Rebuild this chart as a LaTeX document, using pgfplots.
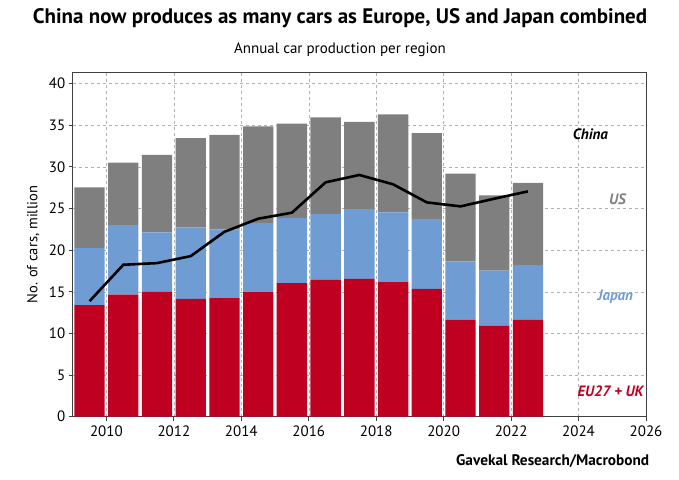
\documentclass[border=0pt]{standalone}
\usepackage{fontspec}
\setmainfont{PT Sans}
\usepackage{pgfplots}
\usepackage{pgfplotstable}
\pgfplotsset{compat=1.18}
\definecolor{eured}{HTML}{C00020}
\definecolor{jpblue}{HTML}{6F9DD3}
\definecolor{usgray}{HTML}{7F7F7F}
\definecolor{gridgray}{HTML}{B0B0B0}
\pgfplotstableread{
year EU JP US China
2009.5 13.40 6.85 7.29 13.87
2010.5 14.67 8.33 7.50 18.24
2011.5 14.99 7.13 9.30 18.44
2012.5 14.15 8.58 10.70 19.28
2013.5 14.23 8.25 11.35 22.20
2014.5 14.95 8.30 11.62 23.77
2015.5 16.03 7.82 11.34 24.49
2016.5 16.43 7.90 11.62 28.14
2017.5 16.55 8.38 10.46 29.02
2018.5 16.15 8.38 11.78 27.90
2019.5 15.35 8.38 10.30 25.73
2020.5 11.66 6.98 10.54 25.25
2021.5 10.90 6.65 9.02 26.17
2022.5 11.62 6.58 9.86 27.05
}\datatable
\begin{document}
\begin{tikzpicture}
\useasboundingbox (-72.7bp,-63.3bp) rectangle (606.3bp,416.7bp);
\pgfplotsset{
  common/.style={
    scale only axis, width=573.3bp, height=344bp,
    xmin=2009, xmax=2026, ymin=0, ymax=41.3,
    at={(0,0)}, anchor=south west,
  }
}
\begin{axis}[common,
  ybar stacked, bar width=0.9,
  xtick={2010,2012,...,2026}, ytick={0,5,...,40},
  x tick label style={/pgf/number format/1000 sep={}, yshift=-2bp},
  /pgf/number format/assume math mode=true,
  tick label style={font=\fontsize{15bp}{17bp}\selectfont},
  tick align=outside, tick pos=left, major tick length=4bp,
  grid=major, major grid style={dashed, gridgray, line width=0.5bp},
  axis line style={draw=black!75, line width=0.8bp},
  tick style={black!75, line width=0.8bp},
]
\addplot[fill=eured, draw=none] table[x=year, y=EU] {\datatable};
\addplot[fill=jpblue, draw=none] table[x=year, y=JP] {\datatable};
\addplot[fill=usgray, draw=none] table[x=year, y=US] {\datatable};
\end{axis}
\begin{axis}[common, hide axis]
\addplot[black, line width=2.6bp, mark=none] table[x=year, y=China] {\datatable};
\node[font=\fontsize{15bp}{17bp}\selectfont\bfseries\itshape, text=black] at (axis cs:2024.35,33.9) {China};
\node[font=\fontsize{15bp}{17bp}\selectfont\bfseries\itshape, text=usgray] at (axis cs:2025.15,26.1) {US};
\node[font=\fontsize{15bp}{17bp}\selectfont\bfseries\itshape, text=jpblue] at (axis cs:2025.09,14.4) {Japan};
\node[font=\fontsize{15bp}{17bp}\selectfont\bfseries\itshape, text=eured] at (axis cs:2024.95,3.1) {EU27 + UK};
\end{axis}
\node[rotate=90, font=\fontsize{14.5bp}{16bp}\selectfont] at (-39.5bp,172bp) {No. of cars, million};
\node[font=\fontsize{21bp}{24bp}\selectfont\bfseries] at (267.3bp,398.7bp) {China now produces as many cars as Europe, US and Japan combined};
\node[font=\fontsize{15bp}{17bp}\selectfont] at (267.3bp,366.7bp) {Annual car production per region};
\node[font=\fontsize{15.3bp}{17bp}\selectfont\bfseries, anchor=east] at (580bp,-44.3bp) {Gavekal Research/Macrobond};
\end{tikzpicture}
\end{document}
